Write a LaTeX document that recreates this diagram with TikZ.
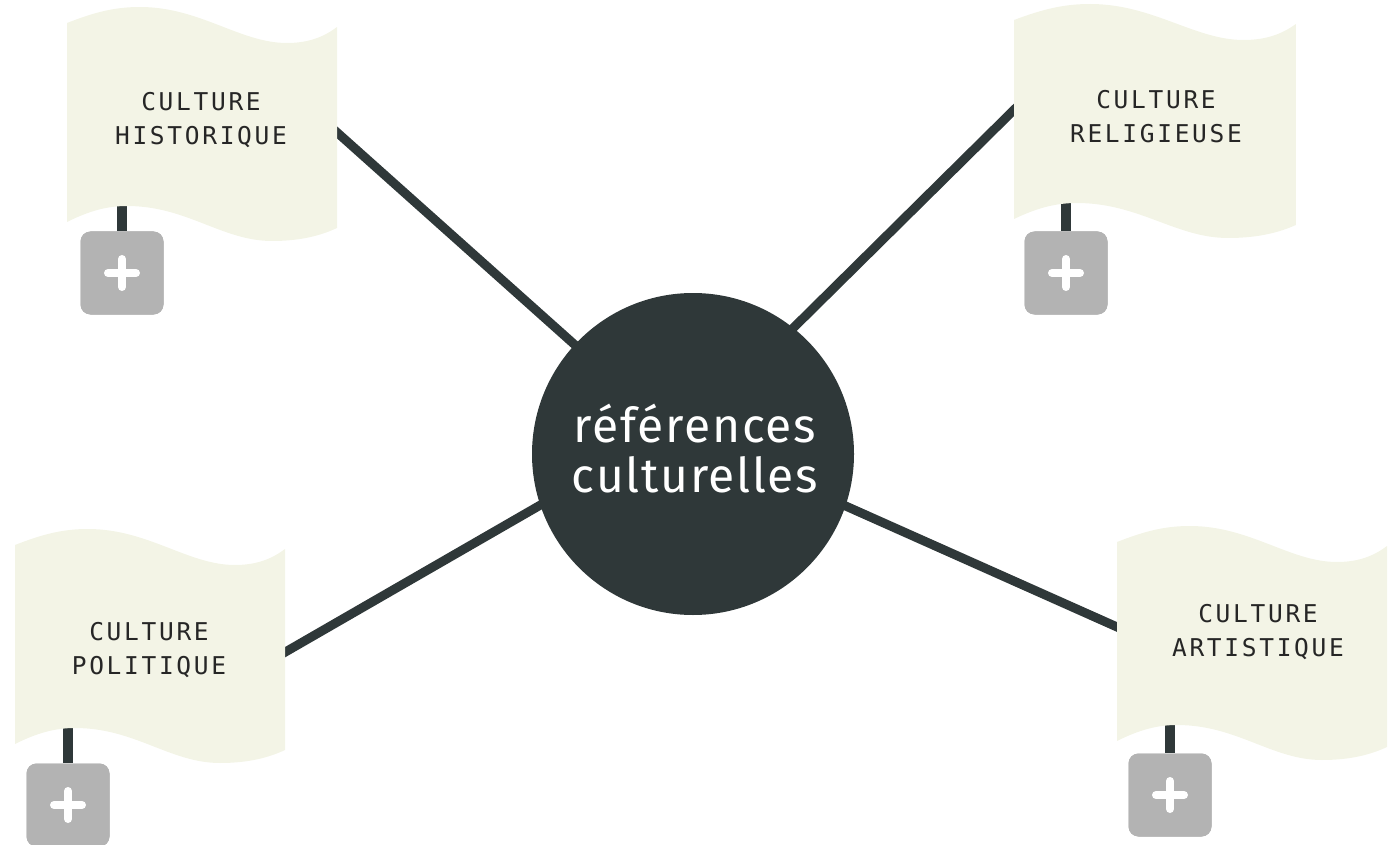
\documentclass[tikz,border=0pt]{standalone}
\usepackage{fontspec}
\setmainfont{Fira Sans}
\newfontfamily\flagfont{DejaVu Sans Mono}[LetterSpace=11]
\definecolor{flagfill}{HTML}{F3F4E6}
\definecolor{darkc}{HTML}{2F3839}
\definecolor{boxgray}{HTML}{B3B3B3}
\definecolor{txtc}{HTML}{262626}
\tikzset{
  link/.style={draw=darkc, line width=9pt},
  stem/.style={draw=darkc, line width=10pt},
  flagtext/.style={text=txtc, font=\flagfont\fontsize{24.5}{34}\selectfont, align=center, inner sep=0pt},
  plusbox/.style={fill=boxgray, rounded corners=10pt, minimum width=83pt, minimum height=83pt, inner sep=0pt},
  plussign/.style={draw=white, line width=8pt, line cap=round},
  hub/.style={circle, fill=darkc, minimum size=322pt, inner sep=0pt},
  hubtext/.style={text=white, font=\fontsize{48}{50}\selectfont\addfontfeatures{LetterSpace=3.5}, align=center, inner sep=0pt}
}
\newcommand\flagpath[3]{%
  \fill[flagfill, shift={(#1,#2)}, xscale=#3]
    (0,0) .. controls (28,-11) and (48,-16) .. (73,-16)
    .. controls (133,-16) and (173,20) .. (220,20)
    .. controls (243,20) and (258,13) .. (270,4)
    -- (270,205)
    .. controls (255,212) and (235,218) .. (205,218)
    .. controls (155,218) and (120,183) .. (60,183)
    .. controls (40,183) and (22,188) .. (0,199) -- cycle;}
\newcommand\plusmark[1]{%
  \draw[plussign] ([xshift=-14pt]#1.center) -- ([xshift=14pt]#1.center);
  \draw[plussign] ([yshift=-14pt]#1.center) -- ([yshift=14pt]#1.center);}
\begin{document}
\begin{tikzpicture}[x=1pt, y=-1pt]
\useasboundingbox (0,0) rectangle (1395,845);
% connector coordinates
\coordinate (a1) at (322,119);  \coordinate (b1) at (603,370);
\coordinate (a2) at (1028,96);  \coordinate (b2) at (772,349);
\coordinate (a3) at (268,662);  \coordinate (b3) at (563,492);
\coordinate (a4) at (1135,635); \coordinate (b4) at (821,495);
\draw[link] (a1) -- (b1);
\draw[link] (a2) -- (b2);
\draw[link] (a3) -- (b3);
\draw[link] (a4) -- (b4);
% plus boxes
\node[plusbox] (p1) at (122,273) {};
\node[plusbox] (p2) at (1066,273) {};
\node[plusbox] (p3) at (68,805) {};
\node[plusbox] (p4) at (1170,795) {};
% stems
\coordinate (s1) at (122,200);
\coordinate (s2) at (1066,200);
\coordinate (s3) at (68,725);
\coordinate (s4) at (1170,720);
\draw[stem] (s1) -- (p1.north);
\draw[stem] (s2) -- (p2.north);
\draw[stem] (s3) -- (p3.north);
\draw[stem] (s4) -- (p4.north);
% flags
\flagpath{67}{23}{1}
\flagpath{1014}{20}{1.044}
\flagpath{15}{545}{1}
\flagpath{1117}{542}{1}
% redraw boxes on top
\node[plusbox] at (p1) {};
\node[plusbox] at (p2) {};
\node[plusbox] at (p3) {};
\node[plusbox] at (p4) {};
\plusmark{p1}
\plusmark{p2}
\plusmark{p3}
\plusmark{p4}
% flag texts
\node[flagtext] (t1) at (201,120) {CULTURE\\HISTORIQUE};
\node[flagtext] (t2) at (1156,117) {CULTURE\\RELIGIEUSE};
\node[flagtext] (t3) at (149,650) {CULTURE\\POLITIQUE};
\node[flagtext] (t4) at (1258,632) {CULTURE\\ARTISTIQUE};
% hub
\node[hub] (c) at (693,454) {};
\node[hubtext] (ct) at (695,449) {références\\culturelles};
\end{tikzpicture}
\end{document}
